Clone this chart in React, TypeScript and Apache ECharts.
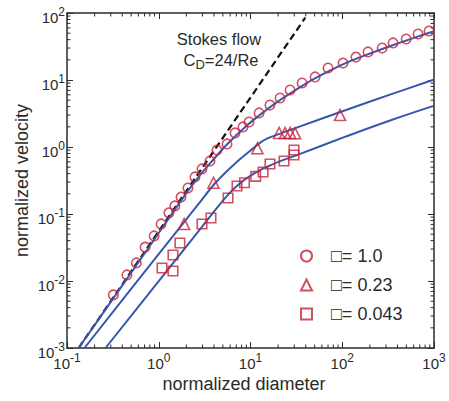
import React, { useEffect, useRef } from "react";
import * as echarts from "echarts";

// ---- data ----
const circleX = [0.32, 0.45, 0.57, 0.71, 0.89, 1.06, 1.29, 1.5, 1.75, 2.08, 2.48, 2.96, 3.62, 4.31, 5.55, 6.78, 8.28, 9.63, 12.4, 16.3, 21.0, 27.0, 36.5, 50.6, 70, 102, 141, 191, 272, 358, 497, 670, 883];
const circleY = [0.0062, 0.0123, 0.0186, 0.032, 0.047, 0.071, 0.104, 0.132, 0.179, 0.244, 0.357, 0.47, 0.618, 0.9, 1.11, 1.62, 1.99, 2.36, 3.22, 4.23, 5.39, 7.09, 9.02, 11.1, 15.1, 17.9, 22.0, 26.2, 30.0, 35.7, 40.9, 48.6, 53.9];

const triX = [1.89, 3.95, 11.9, 20.5, 23.8, 27.0, 30.6, 94.6];
const triY = [0.071, 0.293, 0.96, 1.62, 1.62, 1.62, 1.6, 3.0];

const sqX = [1.085, 1.43, 1.43, 1.7, 2.96, 3.71, 5.69, 7.13, 8.6, 11.4, 13.7, 16.3, 23.2, 29.8, 29.8];
const sqY = [0.0156, 0.0141, 0.0244, 0.0369, 0.071, 0.087, 0.173, 0.262, 0.292, 0.365, 0.424, 0.557, 0.618, 0.76, 0.9];

const fit1X = [0.134, 0.744, 2.0, 2.83, 3.64, 5.53, 9.14, 15.1, 21.1, 30, 48.6, 75, 112, 180, 259, 450, 700, 988];
const fit1Y = [0.001, 0.029, 0.205, 0.383, 0.573, 1.09, 2.1, 3.62, 5.05, 6.9, 10.3, 14.0, 18.2, 23.5, 28.3, 37, 45.5, 53];

const fit2X = [0.155, 1.08, 1.91, 2.83, 4.13, 6.53, 9.94, 13, 15.1, 19.6, 34.8, 112, 350, 988];
const fit2Y = [0.001, 0.029, 0.077, 0.152, 0.29, 0.54, 0.88, 1.18, 1.33, 1.53, 2.03, 3.6, 6.2, 10.07];

const fit3X = [0.263, 1.86, 3.0, 3.96, 6.01, 8, 9.94, 13, 16.3, 21.1, 34.8, 112, 350, 988];
const fit3Y = [0.001, 0.029, 0.066, 0.107, 0.21, 0.3, 0.37, 0.46, 0.53, 0.615, 0.79, 1.45, 2.55, 4.11];

const stokesX = [0.134, 39.5];
const stokesY = [0.001, 85];

const seriesNames = ["\u25A1= 1.0", "\u25A1= 0.23", "\u25A1= 0.043"];

const xRange = [0.1, 1000];
const yRange = [0.001, 100];
const xMinorTicks = [0.2, 0.3, 0.4, 0.5, 0.6, 0.7, 0.8, 0.9, 2, 3, 4, 5, 6, 7, 8, 9, 20, 30, 40, 50, 60, 70, 80, 90, 200, 300, 400, 500, 600, 700, 800, 900];
const yMinorTicks = [0.002, 0.003, 0.004, 0.005, 0.006, 0.007, 0.008, 0.009, 0.02, 0.03, 0.04, 0.05, 0.06, 0.07, 0.08, 0.09, 0.2, 0.3, 0.4, 0.5, 0.6, 0.7, 0.8, 0.9, 2, 3, 4, 5, 6, 7, 8, 9, 20, 30, 40, 50, 60, 70, 80, 90];

const FONT = "Liberation Sans";
const RED = "#c4243a";
const BLUE = "#3558ad";
const AXIS = "#2a2a2a";

const zip = (xs: number[], ys: number[]) => xs.map((x, i) => [x, ys[i]]);

const supLabel = (v: number) => {
  const e = Math.round(Math.log10(v));
  return `{b|10}{s|${e}}`;
};

const labelRich = {
  b: { fontSize: 15, fontFamily: FONT, color: AXIS, lineHeight: 19, verticalAlign: "bottom" },
  s: { fontSize: 12, fontFamily: FONT, color: AXIS, lineHeight: 12, verticalAlign: "top" },
};

export default function App() {
  const ref = useRef<HTMLDivElement>(null);
  useEffect(() => {
    if (!ref.current) return;
    const chart = echarts.init(ref.current, undefined, { renderer: "svg" });

    const baseX = {
      type: "log" as const,
      logBase: 10,
      min: xRange[0],
      max: xRange[1],
      splitNumber: 4,
      splitLine: { show: false },
      axisLine: { show: true, lineStyle: { color: AXIS, width: 1.5 } },
      axisTick: { show: true, inside: true, length: 6, lineStyle: { color: AXIS, width: 1 } },
    };
    const baseY = {
      type: "log" as const,
      logBase: 10,
      min: yRange[0],
      max: yRange[1],
      splitNumber: 5,
      splitLine: { show: false },
      axisLine: { show: true, lineStyle: { color: AXIS, width: 1.5 } },
      axisTick: { show: true, inside: true, length: 6, lineStyle: { color: AXIS, width: 1 } },
    };

    const minorTickStyle = { stroke: AXIS, lineWidth: 1 };
    const ML = 3.5;

    chart.setOption({
      animation: false,
      backgroundColor: "#fff",
      grid: { left: 67, top: 13, width: 367, height: 335 },
      xAxis: [
        {
          ...baseX,
          position: "bottom",
          name: "normalized diameter",
          nameLocation: "middle",
          nameGap: 27,
          nameMoveOverlap: false,
          nameTextStyle: { fontSize: 18, fontFamily: FONT, color: AXIS, padding: [0, 13, 0, 0] },
          axisLabel: { show: true, margin: 4, formatter: supLabel, rich: labelRich },
        },
        { ...baseX, position: "top", axisLabel: { show: false } },
      ],
      yAxis: [
        {
          ...baseY,
          position: "left",
          name: "normalized velocity",
          nameLocation: "middle",
          nameGap: 36,
          nameMoveOverlap: false,
          nameTextStyle: { fontSize: 18, fontFamily: FONT, color: AXIS },
          axisLabel: { show: true, margin: 2, padding: [4, 0, 0, 0], formatter: supLabel, rich: labelRich },
        },
        { ...baseY, position: "right", axisLabel: { show: false } },
      ],
      legend: {
        data: seriesNames,
        orient: "vertical",
        left: 295,
        top: 242,
        itemWidth: 11,
        itemHeight: 11,
        itemGap: 11,
        textStyle: { fontSize: 18, fontFamily: FONT, color: AXIS, padding: [0, 0, 0, 14] },
      },
      graphic: [
        {
          type: "text",
          x: 219,
          y: 39,
          style: { text: "Stokes flow", fontSize: 16.5, fontFamily: FONT, fill: AXIS, align: "center", verticalAlign: "middle" },
        },
        {
          type: "text",
          x: 221,
          y: 61,
          style: {
            text: "{a|C}{d|D}{a|=24/Re}",
            align: "center",
            verticalAlign: "middle",
            rich: {
              a: { fontSize: 16.5, fontFamily: FONT, fill: AXIS, lineHeight: 20, verticalAlign: "top" },
              d: { fontSize: 13, fontFamily: FONT, fill: AXIS, lineHeight: 13, verticalAlign: "bottom" },
            },
          },
        },
      ],
      series: [
        {
          type: "custom",
          silent: true,
          clip: false,
          data: xMinorTicks.map((v) => [v, 1]),
          renderItem: (params: any, api: any) => {
            const cs = params.coordSys;
            const x = api.coord([api.value(0), 1])[0];
            return {
              type: "group",
              children: [
                { type: "line", shape: { x1: x, y1: cs.y + cs.height, x2: x, y2: cs.y + cs.height - ML }, style: minorTickStyle },
                { type: "line", shape: { x1: x, y1: cs.y, x2: x, y2: cs.y + ML }, style: minorTickStyle },
              ],
            };
          },
        },
        {
          type: "custom",
          silent: true,
          clip: false,
          data: yMinorTicks.map((v) => [1, v]),
          renderItem: (params: any, api: any) => {
            const cs = params.coordSys;
            const y = api.coord([1, api.value(1)])[1];
            return {
              type: "group",
              children: [
                { type: "line", shape: { x1: cs.x, y1: y, x2: cs.x + ML, y2: y }, style: minorTickStyle },
                { type: "line", shape: { x1: cs.x + cs.width, y1: y, x2: cs.x + cs.width - ML, y2: y }, style: minorTickStyle },
              ],
            };
          },
        },
        {
          type: "line",
          data: zip(stokesX, stokesY),
          showSymbol: false,
          silent: true,
          lineStyle: { color: "#111", width: 2.2, type: [7, 4] },
          z: 2,
        },
        ...[zip(fit1X, fit1Y), zip(fit2X, fit2Y), zip(fit3X, fit3Y)].map((d) => ({
          type: "line",
          data: d,
          showSymbol: false,
          silent: true,
          smooth: 0.35,
          lineStyle: { color: BLUE, width: 2 },
          z: 3,
        })),
        {
          name: seriesNames[0],
          type: "scatter",
          data: zip(circleX, circleY),
          symbol: "circle",
          symbolSize: 9.5,
          itemStyle: { color: "rgba(255,255,255,0)", borderColor: RED, borderWidth: 1.6 },
          z: 4,
        },
        {
          name: seriesNames[1],
          type: "scatter",
          data: zip(triX, triY),
          symbol: "triangle",
          symbolSize: 11,
          itemStyle: { color: "rgba(255,255,255,0)", borderColor: RED, borderWidth: 1.6 },
          z: 4,
        },
        {
          name: seriesNames[2],
          type: "scatter",
          data: zip(sqX, sqY),
          symbol: "rect",
          symbolSize: 9.5,
          itemStyle: { color: "rgba(255,255,255,0)", borderColor: RED, borderWidth: 1.6 },
          z: 4,
        },
      ],
    });
    return () => chart.dispose();
  }, []);
  return <div ref={ref} style={{ width: 449, height: 401, position: "absolute", left: 0, top: 0 }} />;
}
